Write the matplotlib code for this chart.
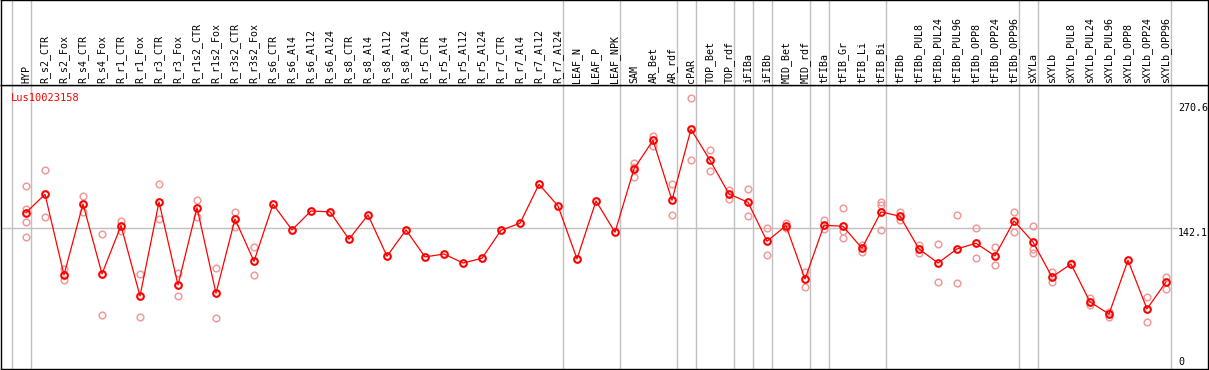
import matplotlib
matplotlib.use("Agg")
import matplotlib.pyplot as plt
from matplotlib.transforms import blended_transform_factory

categories = ["HYP", "R_s2_CTR", "R_s2_Fox", "R_s4_CTR", "R_s4_Fox", "R_r1_CTR", "R_r1_Fox",
              "R_r3_CTR", "R_r3_Fox", "R_r1s2_CTR", "R_r1s2_Fox", "R_r3s2_CTR", "R_r3s2_Fox",
              "R_s6_CTR", "R_s6_Al4", "R_s6_Al12", "R_s6_Al24", "R_s8_CTR", "R_s8_Al4", "R_s8_Al12",
              "R_s8_Al24", "R_r5_CTR", "R_r5_Al4", "R_r5_Al12", "R_r5_Al24", "R_r7_CTR", "R_r7_Al4",
              "R_r7_Al12", "R_r7_Al24", "LEAF_N", "LEAF_P", "LEAF_NPK", "SAM", "AR_Bet", "AR_rdf",
              "cPAR", "TOP_Bet", "TOP_rdf", "iFIBa", "iFIBb", "MID_Bet", "MID_rdf", "tFIBa",
              "tFIB_Gr", "tFIB_Li", "tFIB_Bi", "tFIBb", "tFIBb_PUL8", "tFIBb_PUL24", "tFIBb_PUL96",
              "tFIBb_OPP8", "tFIBb_OPP24", "tFIBb_OPP96", "sXYLa", "sXYLb", "sXYLb_PUL8",
              "sXYLb_PUL24", "sXYLb_PUL96", "sXYLb_OPP8", "sXYLb_OPP24", "sXYLb_OPP96"]

mean_values = [157.6, 175.7, 96.0, 166.2, 97.0, 144.7, 75.2, 168.1, 86.1, 162.5, 77.9, 151.3, 109.5,
               165.9, 140.5, 159.2, 158.3, 131.3, 155.3, 114.5, 140.5, 113.8, 116.7, 107.8, 112.5,
               140.2, 147.1, 185.6, 164.2, 111.8, 169.1, 138.2, 200.8, 229.1, 169.8, 240.0, 209.3,
               176.0, 167.8, 129.3, 144.7, 92.0, 145.1, 144.1, 122.4, 158.3, 154.0, 121.7, 107.8,
               121.7, 127.3, 114.8, 149.4, 128.6, 94.0, 106.8, 69.3, 57.4, 110.5, 62.4, 89.1]

replicates = [[183.9, 160.9, 148.7, 133.2], [199.8, 153.0], [101.6, 91.0], [174.1, 158.5],
              [136.5, 56.1], [149.7, 139.8], [96.7, 54.2], [185.9, 151.0], [97.7, 75.2],
              [170.1, 153.6], [102.6, 53.5], [158.3, 143.1], [123.4, 95.7],
              [], [], [], [], [], [], [], [], [], [], [], [], [], [], [], [], [], [], [],
              [207.0, 203.0, 192.8], [233.4, 223.8], [185.6, 155.0], [270.6, 209.3],
              [219.2, 198.8], [180.0, 170.8], [180.7, 154.3], [142.1, 115.7], [147.1, 142.7],
              [99.2, 83.8], [150.3, 141.4], [161.9, 139.8, 132.2], [125.6, 118.4],
              [167.8, 165.5, 140.2], [158.3, 150.3], [125.6, 117.4], [126.6, 89.1],
              [155.3, 88.1], [142.4, 112.8], [123.4, 105.6], [158.0, 138.8],
              [144.1, 121.4, 118.0], [99.2, 88.8], [107.8], [73.6, 66.0], [59.1, 54.8], [],
              [73.9, 49.2], [94.0, 82.4]]

group_ends = [-1, 0, 28, 31, 34, 35, 37, 38, 39, 41, 42, 45, 52, 53, 60]
y_labels = ["270.6", "142.1", "0"]
ref_value = 142.1
title = "Lus10023158"

W, H = 1209, 370
fig = plt.figure(figsize=(W / 100, H / 100), dpi=100)
font = "DejaVu Sans Mono"
fs = 7.2

x_lo, x_hi = (1 - 26) / 19, (1208 - 26) / 19
ax = fig.add_axes([1 / W, 1 / H, 1207 / W, 284 / H])
axt = fig.add_axes([1 / W, 285 / H, 1207 / W, 85 / H])
for a in (ax, axt):
    a.set_xlim(x_lo, x_hi)
    a.set_xticks([])
    a.set_yticks([])
    for s in a.spines.values():
        s.set_color("black")
        s.set_linewidth(1.0)
ax.set_ylim(3.06, 283.7)
axt.set_ylim(0, 1)

grey = "#c0c0c0"
for g in group_ends:
    ax.axvline(g + 0.25, color=grey, lw=1.0, zorder=1)
    axt.axvline(g + 0.25, color=grey, lw=1.0, zorder=1)

hline_end = (1177 - 26) / 19
ax.plot([x_lo, hline_end], [ref_value, ref_value], color=grey, lw=1.0, zorder=1)

xs = list(range(len(categories)))
for i, reps in enumerate(replicates):
    if reps:
        ax.plot([i] * len(reps), reps, linestyle="none", marker="o", ms=4.8,
                mfc="none", mec="#f09a9a", mew=1.1, zorder=2)
ax.plot(xs, mean_values, color="red", lw=0.9, zorder=3)
ax.plot(xs, mean_values, linestyle="none", marker="o", ms=4.8, mfc="none",
        mec="red", mew=1.5, zorder=4)

for i, c in enumerate(categories):
    axt.text(i, 0.025, c, rotation=90, ha="center", va="bottom", fontsize=fs,
             family=font, color="black")

ax.text(10 / 1207, 1 - 8 / 284, title, transform=ax.transAxes, color="red",
        fontsize=fs + 0.3, family=font, va="top", ha="left")

tr = blended_transform_factory(ax.transData, ax.transAxes)
lab_x = (1178 - 26) / 19
ax.text(lab_x, 1 - 18 / 284, y_labels[0], transform=tr, fontsize=fs, family=font,
        va="top", ha="left", clip_on=False)
ax.text(lab_x, 1 - 143 / 284, y_labels[1], transform=tr, fontsize=fs, family=font,
        va="top", ha="left", clip_on=False)
ax.text(lab_x, 2 / 284, y_labels[2], transform=tr, fontsize=fs, family=font,
        va="bottom", ha="left", clip_on=False)

fig.savefig("out.png", dpi=100)
